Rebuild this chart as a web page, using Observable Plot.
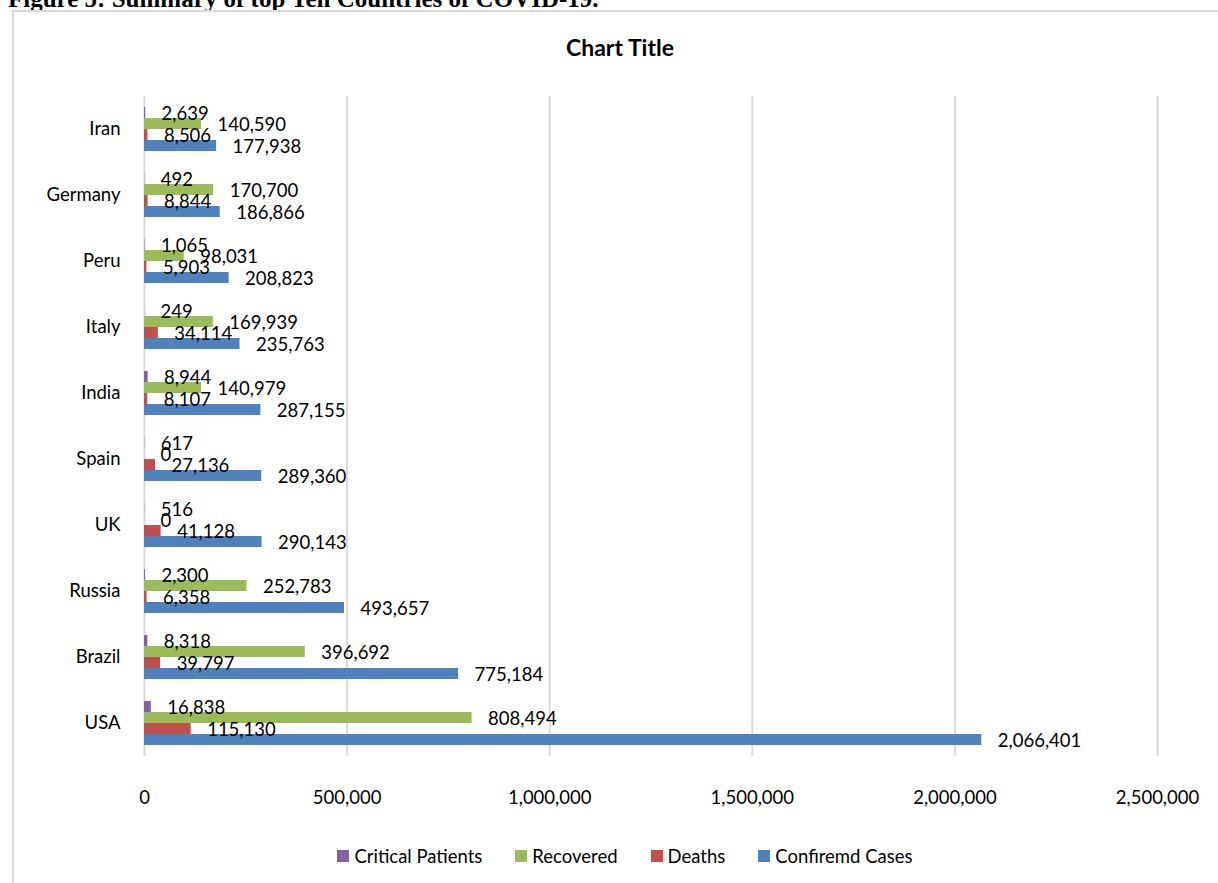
<!DOCTYPE html>
<html>
<head>
<meta charset="utf-8">
<script src="https://cdn.jsdelivr.net/npm/d3@7"></script>
<script src="https://cdn.jsdelivr.net/npm/@observablehq/plot@0.6"></script>
<style>
  html, body { margin: 0; padding: 0; background: #fff; }
  body { width: 1218px; height: 883px; position: relative; overflow: hidden; font-family: Lato, "Open Sans", sans-serif; }
  #caption { position: absolute; left: 8px; top: -14px; font-family: "Liberation Serif", serif; font-weight: bold; font-size: 25px; line-height: 25px; white-space: nowrap; color: #000; }
  #frame { position: absolute; left: 12px; top: 10px; width: 1300px; height: 1000px; border-left: 2px solid #d9d9d9; border-top: 2px solid #d9d9d9; }
  #title { position: absolute; left: 0; width: 1240px; top: 33px; text-align: center; font-weight: bold; font-size: 23px; color: #000; }
  #chart { position: absolute; left: 0; top: 0; }
  #legend { position: absolute; left: 0; width: 1250px; top: 845px; display: flex; justify-content: center; gap: 33px; font-size: 18.5px; color: #000; }
  #legend .item { display: flex; align-items: center; gap: 5px; }
  #legend .sw { width: 12px; height: 12px; display: inline-block; }
</style>
</head>
<body>
<div id="caption">Figure 5: Summary of top Ten Countries of COVID-19.</div>
<div id="frame"></div>
<div id="title">Chart Title</div>
<div id="chart"></div>
<div id="legend"></div>
<script>
const countries = ["Iran", "Germany", "Peru", "Italy", "India", "Spain", "UK", "Russia", "Brazil", "USA"];
const seriesNames = ["Critical Patients", "Recovered", "Deaths", "Confiremd Cases"];
const critical  = [2639, 492, 1065, 249, 8944, 617, 516, 2300, 8318, 16838];
const recovered = [140590, 170700, 98031, 169939, 140979, 0, 0, 252783, 396692, 808494];
const deaths    = [8506, 8844, 5903, 34114, 8107, 27136, 41128, 6358, 39797, 115130];
const confirmed = [177938, 186866, 208823, 235763, 287155, 289360, 290143, 493657, 775184, 2066401];
const xTicks = [0, 500000, 1000000, 1500000, 2000000, 2500000];
const colors = ["#8064A2", "#9BBB59", "#C0504D", "#4F81BD"];

const seriesValues = [critical, recovered, deaths, confirmed];
const rows = [];
countries.forEach((c, i) => {
  seriesNames.forEach((s, k) => {
    rows.push({country: c, series: s, value: seriesValues[k][i]});
  });
});
const fmt = d3.format(",");

const chart = Plot.plot({
  width: 1218,
  height: 820,
  marginLeft: 144,
  marginRight: 61,
  marginTop: 95,
  marginBottom: 63,
  style: {fontFamily: "Lato, 'Open Sans', sans-serif", fontSize: "18.5px", color: "#000", background: "transparent", overflow: "visible"},
  facet: {data: rows, y: "country"},
  fy: {domain: countries, paddingInner: 0.33, paddingOuter: 0.165, axis: "left", tickSize: 0, tickPadding: 24, label: null},
  y: {domain: seriesNames, padding: 0, axis: null},
  x: {domain: [0, 2500000], ticks: xTicks, tickFormat: fmt, tickSize: 0, tickPadding: 45, label: null},
  color: {domain: seriesNames, range: colors},
  marks: [
    Plot.ruleX(xTicks, {x: d => d, stroke: "#d9d9d9", strokeWidth: 2, insetTop: -11, insetBottom: -11}),
    Plot.barX(rows, {x: "value", y: "series", fill: "series"}),
    Plot.text(rows, {x: "value", y: "series", text: d => fmt(d.value), textAnchor: "start", dx: 16, dy: 1, fill: "#000", fontSize: 18.5})
  ]
});
document.getElementById("chart").appendChild(chart);

const legend = document.getElementById("legend");
seriesNames.forEach((s, k) => {
  const item = document.createElement("div");
  item.className = "item";
  const sw = document.createElement("span");
  sw.className = "sw";
  sw.style.background = colors[k];
  const t = document.createElement("span");
  t.textContent = s;
  item.appendChild(sw);
  item.appendChild(t);
  legend.appendChild(item);
});
</script>
</body>
</html>
